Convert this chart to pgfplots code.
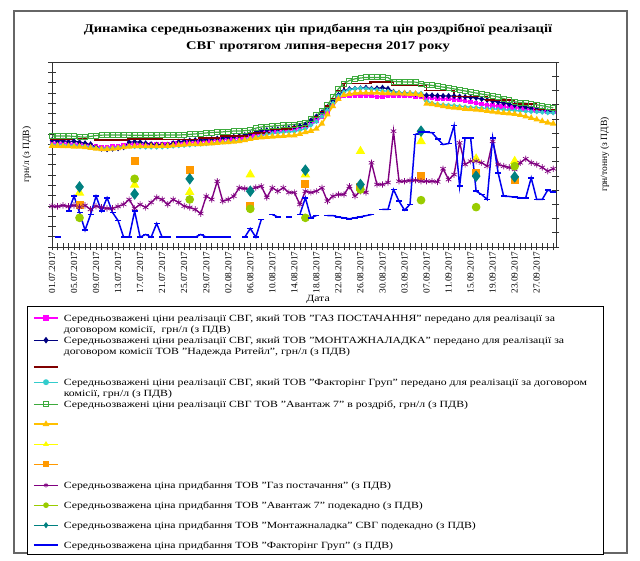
\documentclass[border=0pt]{standalone}
\usepackage{fontspec}
\setmainfont{Liberation Serif}[FakeStretch=1.24]
\newfontfamily\plainfont{Liberation Serif}
\usepackage{pgfplots}
\pgfplotsset{compat=1.18}
\usepackage{pgfplotstable}

\definecolor{cMag}{HTML}{FF00FF}
\definecolor{cNavy}{HTML}{000080}
\definecolor{cBrown}{HTML}{800000}
\definecolor{cCyan}{HTML}{33CCCC}
\definecolor{cGreen}{HTML}{3DAA3D}
\definecolor{cGold}{HTML}{FFC000}
\definecolor{cYel}{HTML}{FFFF00}
\definecolor{cOra}{HTML}{FF9900}
\definecolor{cPur}{HTML}{800080}
\definecolor{cYG}{HTML}{99CC00}
\definecolor{cTeal}{HTML}{008080}
\definecolor{cBlue}{HTML}{0000F0}

\pgfplotsset{
 sMag/.style={color=cMag, line width=1.5pt, mark=square*, mark size=1.6pt},
 sNavy/.style={color=cNavy, line width=1.3pt, mark=diamond*, mark size=2pt},
 sBrown/.style={color=cBrown, line width=1.5pt, mark=-, mark size=2.5pt},
 sCyan/.style={color=cCyan, line width=1.3pt, mark=*, mark size=1.6pt},
 sGreen/.style={color=cGreen, line width=1.2pt, mark=square, mark size=2.5pt, mark options={fill=white, line width=0.9pt}},
 sGold/.style={color=cGold, line width=1.6pt, mark=triangle*, mark size=2.2pt},
 sYel/.style={color=cYel, line width=1pt, mark=triangle*, mark size=4.5pt},
 sOra/.style={color=cOra, line width=1pt, mark=square*, mark size=3.5pt},
 sPur/.style={color=cPur, line width=1.4pt, mark=asterisk, mark size=3.2pt, mark options={line width=0.7pt}},
 sYG/.style={color=cYG, line width=1pt, mark=*, mark size=3.8pt},
 sTeal/.style={color=cTeal, line width=1pt, mark=diamond*, mark size=5pt},
 sBlue/.style={color=cBlue, line width=1.5pt, mark=-, mark size=3pt, mark options={line width=1.5pt}},
}

\newcommand{\lt}[3]{\parbox[t]{533pt}{\raggedright\rule{0pt}{#1pt}#3\rule[-#2pt]{0pt}{#2pt}}}

% retail prices (left axis, UAH/l) and purchase price of "Gaz postachannia" (right axis, thousand UAH/t)
\pgfplotstableread{
d  M     N     B     C     G     Y     P
0  11.05 11.20 11.25 10.98 11.40 10.92 16.87
1  11.05 11.15 11.25 10.98 11.40 10.92 16.85
2  11.05 11.18 11.25 10.97 11.40 10.90 16.92
3  11.02 11.12 11.25 10.95 11.40 10.90 16.85
4  11.00 11.15 11.28 10.95 11.38 10.88 16.92
5  11.00 11.10 11.28 10.93 11.36 10.88 16.81
6  10.98 11.05 11.28 10.90 11.34 10.85 16.92
7  10.95 11.00 11.28 10.88 11.38 10.82 16.64
8  10.88 10.85 11.20 10.82 11.42 10.78 16.87
9  10.85 10.78 11.20 10.80 11.44 10.76 16.78
10 10.85 10.75 11.20 10.80 11.45 10.76 16.71
11 10.88 10.78 11.20 10.82 11.45 10.78 16.71
12 10.90 10.80 11.20 10.85 11.45 10.80 16.85
13 10.95 10.85 11.20 10.88 11.45 10.85 16.99
14 11.00 11.10 11.25 10.90 11.44 10.88 17.34
15 11.02 11.12 11.25 10.88 11.44 10.90 16.71
16 11.00 11.10 11.25 10.86 11.44 10.90 16.99
17 10.98 11.05 11.25 10.85 11.44 10.90 16.78
18 10.98 11.00 11.25 10.85 11.44 10.90 17.13
19 10.98 10.98 11.25 10.85 11.44 10.90 17.48
20 10.98 10.98 11.22 10.86 11.45 10.92 17.34
21 11.00 10.98 11.22 10.88 11.45 10.92 16.99
22 11.02 11.05 11.22 10.90 11.45 10.94 17.34
23 11.05 11.12 11.22 10.92 11.45 10.96 17.13
24 11.08 11.15 11.22 10.94 11.46 10.98 16.87
25 11.10 11.18 11.22 10.96 11.48 11.00 16.78
26 11.10 11.20 11.22 10.98 11.50 11.00 16.64
27 11.12 11.20 11.30 11.00 11.52 11.00 16.35
28 11.15 11.22 11.30 11.02 11.55 11.02 17.57
29 11.18 11.25 11.30 11.05 11.57 11.04 17.34
30 11.20 11.28 11.30 11.08 11.58 11.06 18.62
31 11.22 11.30 11.40 11.10 11.60 11.08 17.22
32 11.25 11.33 11.40 11.12 11.62 11.10 17.34
33 11.28 11.36 11.40 11.15 11.64 11.12 17.57
34 11.30 11.40 11.40 11.18 11.64 11.15 18.16
35 11.33 11.45 11.40 11.22 11.66 11.20 18.11
36 11.38 11.50 11.55 11.28 11.68 11.25 18.04
37 11.45 11.58 11.55 11.35 11.78 11.30 18.18
38 11.52 11.65 11.55 11.42 11.84 11.33 18.27
39 11.58 11.68 11.55 11.48 11.86 11.35 17.48
40 11.60 11.70 11.75 11.52 11.88 11.37 18.16
41 11.62 11.72 11.75 11.55 11.90 11.39 17.92
42 11.65 11.75 11.75 11.58 11.92 11.40 18.16
43 11.68 11.78 11.75 11.60 11.94 11.42 17.83
44 11.72 11.82 11.85 11.62 11.96 11.43 17.83
45 11.78 11.88 11.85 11.68 12.00 11.50 16.99
46 11.85 11.95 11.85 11.75 12.05 11.58 17.92
47 12.00 12.15 12.10 11.92 12.25 11.65 17.83
48 12.15 12.35 12.35 12.10 12.40 11.75 17.92
49 12.35 12.55 12.60 12.35 12.60 12.00 18.16
50 12.55 12.80 12.85 12.65 12.90 12.45 17.22
51 12.90 13.10 13.20 13.00 13.30 12.85 17.57
52 13.20 13.40 13.60 13.35 13.70 13.20 17.69
53 13.35 13.60 13.95 13.55 13.95 13.40 17.69
54 13.38 13.68 13.95 13.65 14.10 13.45 18.27
55 13.38 13.70 13.95 13.70 14.18 13.48 17.57
56 13.37 13.72 13.95 13.72 14.22 13.50 17.92
57 13.37 13.75 13.95 13.70 14.25 13.50 17.83
58 13.35 13.70 14.02 13.68 14.25 13.50 19.92
59 13.30 13.72 14.02 13.65 14.25 13.50 18.39
60 13.32 13.75 14.02 13.60 14.25 13.48 18.39
61 13.35 13.70 14.02 13.58 14.24 13.48 18.53
62 13.37 13.55 13.86 13.55 14.05 13.47 22.14
63 13.37 13.50 13.86 13.52 14.04 13.47 18.62
64 13.36 13.50 13.86 13.50 14.03 13.46 18.62
65 13.35 13.48 13.86 13.50 14.03 13.45 18.67
66 13.33 13.45 13.86 13.48 14.02 13.45 18.69
67 13.30 13.40 13.86 13.48 13.95 13.40 18.62
68 13.25 13.38 13.62 13.10 13.90 12.97 18.62
69 13.25 13.38 13.62 13.00 13.86 12.95 18.62
70 13.22 13.36 13.62 12.95 13.82 12.90 18.58
71 13.20 13.35 13.62 12.92 13.78 12.85 19.50
72 13.20 13.35 13.62 12.90 13.74 12.80 18.74
73 13.18 13.34 13.32 12.88 13.69 12.78 19.09
74 13.15 13.32 13.32 12.85 13.64 12.75 21.32
75 13.10 13.30 13.32 12.82 13.59 12.72 19.80
76 13.05 13.28 13.32 12.80 13.54 12.70 20.03
77 13.00 13.25 13.32 12.78 13.49 12.68 20.03
78 12.95 13.20 13.32 12.76 13.44 12.65 19.92
79 12.90 13.15 13.15 12.74 13.40 12.62 19.68
80 12.88 13.10 13.15 12.72 13.35 12.58 21.43
81 12.85 13.05 13.15 12.70 13.30 12.55 19.80
82 12.82 13.00 13.15 12.68 13.22 12.52 19.68
83 12.80 12.95 13.15 12.66 13.14 12.50 19.59
84 12.78 12.90 12.95 12.64 13.06 12.47 19.45
85 12.75 12.85 12.95 12.62 13.03 12.42 19.92
86 12.72 12.80 12.95 12.60 13.00 12.35 20.20
87 12.68 12.75 12.95 12.58 12.96 12.28 19.92
88 12.65 12.70 12.70 12.57 12.92 12.20 19.80
89 12.62 12.65 12.70 12.55 12.87 12.12 19.59
90 12.59 12.60 12.70 12.53 12.82 12.05 19.33
91 12.56 12.56 12.70 12.52 12.77 12.00 19.50
}\tDaily

% purchase price "Faktorynh Hrup" (right axis), gaps as nan
\pgfplotstableread{
d  R
0  nan
1  14.69
2  nan
3  16.52
4  17.57
5  16.42
6  15.18
7  16.28
8  17.57
9  16.52
10 17.46
11 16.42
12 15.85
13 14.69
14 14.69
15 16.52
16 14.69
17 14.88
18 14.69
19 15.65
20 14.69
21 14.69
22 nan
23 14.69
24 14.69
25 14.69
26 14.69
27 14.88
28 14.69
29 14.69
30 14.69
31 14.69
32 14.69
33 nan
34 nan
35 14.69
36 15.30
37 14.69
38 15.93
39 nan
40 16.28
41 16.11
42 nan
43 16.11
44 nan
45 16.28
46 17.46
47 16.05
48 16.21
49 nan
50 16.21
51 16.21
52 16.10
53 16.05
54 15.98
55 16.05
56 16.12
57 16.20
58 16.28
59 nan
60 16.64
61 16.64
62 18.04
63 17.22
64 16.59
65 17.00
66 21.91
67 22.07
68 22.07
69 22.03
70 21.60
71 21.20
72 21.27
73 22.54
74 18.27
75 21.67
76 21.67
77 17.92
78 17.69
79 17.34
80 21.67
81 19.20
82 17.57
83 17.55
84 17.50
85 17.46
86 17.46
87 18.86
88 17.34
89 17.34
90 18.00
91 17.85
}\tBlue

% ten-day purchase prices (right axis)
\pgfplotstableread{
d  Y     O     G     T
5  17.81 16.92 16.05 18.22
6  nan   nan   nan   nan
15 18.36 20.03 18.79 17.72
16 nan   nan   nan   nan
25 17.85 19.40 17.34 18.79
26 nan   nan   nan   nan
36 19.09 16.87 16.68 17.92
37 nan   nan   nan   nan
46 19.09 18.46 16.05 19.40
47 nan   nan   nan   nan
56 20.73 18.25 18.04 18.39
57 nan   nan   nan   nan
67 21.43 18.98 17.29 22.14
68 nan   nan   nan   nan
77 20.20 19.17 16.80 18.98
78 nan   nan   nan   nan
84 20.03 18.69 19.68 18.93
}\tDecade

\begin{document}
\begin{tikzpicture}
\useasboundingbox (0pt,0pt) rectangle (640pt,561pt);
\draw[black!60, line width=1.3pt] (14pt,8pt) rectangle (627pt,550pt);
\node[font=\bfseries\fontsize{11.75}{17}\selectfont, align=center] at (318pt,522.5pt)
  {Динаміка середньозважених цін придбання та цін роздрібної реалізації\\СВГ протягом липня-вересня 2017 року};

\begin{axis}[
  at={(52pt,314pt)}, anchor=south west, scale only axis,
  width=504pt, height=185pt,
  xmin=0, xmax=91.5, ymin=6, ymax=15,
  axis line style={black!80, line width=0.6pt},
  tick style={black!80, line width=0.6pt},
  tick align=center, major tick length=7pt,
  xtick={0,...,91},
  xticklabels={01.07.2017,,,,05.07.2017,,,,09.07.2017,,,,13.07.2017,,,,17.07.2017,,,,21.07.2017,,,,25.07.2017,,,,29.07.2017,,,,02.08.2017,,,,06.08.2017,,,,10.08.2017,,,,14.08.2017,,,,18.08.2017,,,,22.08.2017,,,,26.08.2017,,,,30.08.2017,,,,03.09.2017,,,,07.09.2017,,,,11.09.2017,,,,15.09.2017,,,,19.09.2017,,,,23.09.2017,,,,27.09.2017,,,,},
  xticklabel style={rotate=90, anchor=east, font=\plainfont\fontsize{9.3}{10}\selectfont, inner sep=1pt},
  ytick={6,6.5,...,15.1}, yticklabels={},
  xtick pos=bottom, ytick pos=left,
  xlabel={Дата},
  xlabel style={font=\fontsize{9.5}{11}\selectfont, xshift=14pt, yshift=3pt},
  ylabel={грн/л (з ПДВ)},
  every axis y label/.style={at={(axis description cs:-0.05,0.5)}, rotate=90, anchor=center, font=\plainfont\fontsize{9.5}{11}\selectfont},
]
\addplot[sMag] table[x=d, y=M] {\tDaily};
\addplot[sNavy] table[x=d, y=N] {\tDaily};
\addplot[sBrown, const plot] table[x=d, y=B] {\tDaily};
\addplot[sCyan] table[x=d, y=C] {\tDaily};
\addplot[sGreen] table[x=d, y=G] {\tDaily};
\addplot[sGold] table[x=d, y=Y] {\tDaily};
\end{axis}

\begin{axis}[
  at={(52pt,314pt)}, anchor=south west, scale only axis,
  width=504pt, height=185pt,
  xmin=0, xmax=91.5, ymin=14, ymax=27,
  axis x line=none, axis y line*=right,
  axis line style={black!80, line width=0.6pt},
  tick style={black!80, line width=0.6pt},
  tick align=center, major tick length=7pt,
  ytick={14,...,27}, yticklabels={}, ytick pos=right,
  unbounded coords=jump,
  ylabel={грн/тонну (з ПДВ)},
  every axis y label/.style={at={(axis description cs:1.097,0.5)}, rotate=90, anchor=center, font=\plainfont\fontsize{9.5}{11}\selectfont},
  legend image code/.code={\draw[mark repeat=2,mark phase=2,#1] plot coordinates {(0pt,3pt) (12pt,3pt) (24pt,3pt)};},
  legend image post style={mark size=2.3pt},
  legend style={at={(0,0)}, anchor=north west, xshift=-25pt, yshift=-59pt,
    inner xsep=6pt, inner ysep=4pt, row sep=0pt,
    font=\fontsize{9.5}{11}\selectfont,
    cells={anchor=base west},
    nodes={inner sep=0pt, text depth=},
    /tikz/column 1/.style={column sep=5pt}},
]
\addlegendimage{sMag}
\addlegendentry{\lt{11}{3}{Середньозважені ціни реалізації СВГ, який ТОВ "ГАЗ ПОСТАЧАННЯ" передано для реалізації за\\договором комісії,~ грн/л (з ПДВ)}}
\addlegendimage{sNavy}
\addlegendentry{\lt{8}{8}{Середньозважені ціни реалізації СВГ, який ТОВ "МОНТАЖНАЛАДКА" передано для реалізації за\\договором комісії ТОВ "Надежда Ритейл", грн/л (з ПДВ)}}
\addlegendimage{sBrown}
\addlegendentry{\lt{8}{7}{}}
\addlegendimage{sCyan}
\addlegendentry{\lt{8}{3}{Середньозважені ціни реалізації СВГ, який ТОВ "Факторінг Груп" передано для реалізації за договором\\комісії, грн/л (з ПДВ)}}
\addlegendimage{sGreen}
\addlegendentry{\lt{8}{12}{Середньозважені ціни реалізації СВГ ТОВ "Авантаж 7" в роздріб, грн/л (з ПДВ)}}
\addlegendimage{sGold}
\addlegendentry{\lt{8}{12}{}}
\addplot[sYel] table[x=d, y=Y] {\tDecade};
\addlegendentry{\lt{8}{12}{}}
\addplot[sOra] table[x=d, y=O] {\tDecade};
\addlegendentry{\lt{8}{13}{}}
\addplot[sPur] table[x=d, y=P] {\tDaily};
\addlegendentry{\lt{8}{12}{Середньозважена ціна придбання ТОВ "Газ постачання" (з ПДВ)}}
\addplot[sYG] table[x=d, y=G] {\tDecade};
\addlegendentry{\lt{8}{12}{Середньозважена ціна придбання ТОВ "Авантаж 7" подекадно (з ПДВ)}}
\addplot[sTeal] table[x=d, y=T] {\tDecade};
\addlegendentry{\lt{8}{12}{Середньозважена ціна придбання ТОВ "Монтажналадка" СВГ подекадно (з ПДВ)}}
\addplot[sBlue] table[x=d, y=R] {\tBlue};
\addlegendentry{\lt{8}{1}{Середньозважена ціна придбання ТОВ "Факторінг Груп" (з ПДВ)}}
\end{axis}
\end{tikzpicture}
\end{document}
